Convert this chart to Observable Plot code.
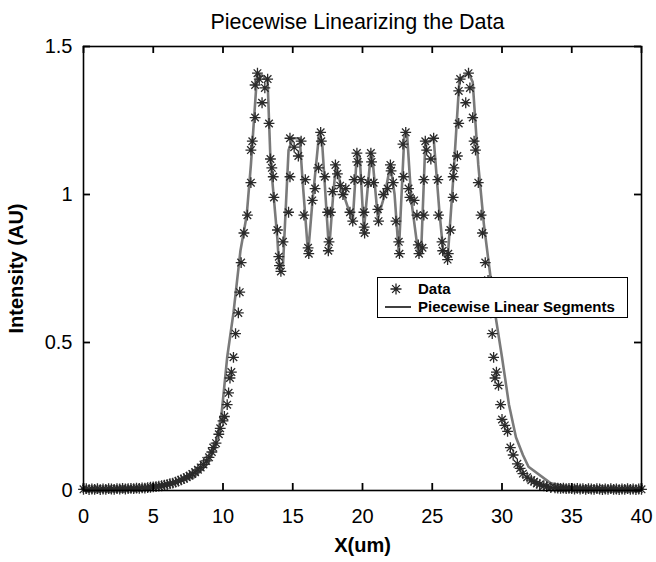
<!DOCTYPE html>
<html>
<head>
<meta charset="utf-8">
<script src="https://cdn.jsdelivr.net/npm/d3@7"></script>
<script src="https://cdn.jsdelivr.net/npm/@observablehq/plot@0.6"></script>
<style>
  html, body { margin: 0; padding: 0; background: #fff; }
  #wrap { position: relative; width: 656px; height: 562px; font-family: "Liberation Sans", Arial, sans-serif; }
  #legend { position: absolute; left: 377px; top: 277px; width: 249px; height: 39px; border: 1.5px solid #000; background: #fff;
            font-weight: bold; font-size: 15px; color: #000; }
  .row { position: absolute; left: 0; height: 18px; width: 249px; }
  .row svg { position: absolute; left: 4px; top: 0; }
  .row span { position: absolute; left: 40px; top: 0; line-height: 18px; white-space: nowrap; }
</style>
</head>
<body>
<div id="wrap">
  <div id="chart"></div>
  <div id="legend">
    <div class="row" style="top:2px"><svg width="30" height="18"><g transform="translate(14,9)" stroke="#222" stroke-width="1.3"><path d="M0,-5.5V5.5M-5.5,0H5.5M-3.9,-3.9L3.9,3.9M-3.9,3.9L3.9,-3.9"/></g></svg><span>Data</span></div>
    <div class="row" style="top:20px"><svg width="30" height="18"><line x1="3" x2="29" y1="9" y2="9" stroke="#000" stroke-width="1.5"/></svg><span>Piecewise Linear Segments</span></div>
  </div>
</div>
<script>
const title = "Piecewise Linearizing the Data";
const xLabel = "X(um)";
const yLabel = "Intensity (AU)";
const xTicks = [0, 5, 10, 15, 20, 25, 30, 35, 40];
const yTicks = [0, 0.5, 1, 1.5];
const yTickLabels = ["0", "0.5", "1", "1.5"];

// measured data points (stars)
const dataX = [
  0,0.2,0.4,0.6,0.8,1.0,1.2,1.4,1.6,1.8,
  2.0,2.2,2.4,2.6,2.8,3.0,3.2,3.4,3.6,3.8,
  4.0,4.2,4.4,4.6,4.8,5.0,5.2,5.4,5.6,5.8,
  6.0,6.2,6.4,6.6,6.8,7.0,7.2,7.4,7.6,7.8,
  8.0,8.2,8.4,8.6,8.8,9.0,9.2,9.3,9.5,9.7,9.8,10.0,10.1,10.3,10.4,10.5,10.6,10.75,10.9,11.1,11.2,11.3,11.5,11.75,
  12.0,12.0,12.1,12.3,12.3,12.47,12.6,12.8,13.0,13.2,13.3,13.4,13.5,13.6,13.65,13.9,14.0,14.05,14.15,
  14.3,14.7,14.8,14.8,15.1,15.4,15.6,15.8,15.9,16.1,16.15,16.4,16.6,16.85,17.0,17.05,17.3,17.5,17.6,17.55,17.7,17.85,
  18.06,18.2,18.4,18.6,18.8,19.1,19.3,19.4,19.6,19.65,19.9,20.1,20.12,20.15,20.4,20.6,20.65,20.8,21.1,21.15,
  21.5,21.8,22.0,22.05,22.2,22.4,22.6,22.65,22.9,22.95,23.1,23.3,23.4,23.7,23.9,24.0,24.05,24.3,24.4,24.4,
  24.5,24.6,24.9,25.1,25.4,25.45,25.7,25.75,26.1,26.15,26.3,26.5,26.5,26.55,26.8,26.9,26.9,27.0,27.4,27.6,
  27.7,27.9,28.0,28.1,28.3,28.5,28.6,28.8,29.0,29.2,29.3,29.4,29.5,29.6,29.75,29.9,30.0,30.2,30.4,30.6,
  30.8,31.1,31.3,31.5,31.8,32.1,32.3,32.5,32.7,33.0,33.2,33.5,33.8,34.0,
  34.2,34.4,34.6,34.8,35.0,35.2,35.4,35.6,35.8,36.0,36.2,36.4,36.6,36.8,37.0,37.2,37.4,37.6,37.8,38.0,
  38.2,38.4,38.6,38.8,39.0,39.2,39.4,39.6,39.8,40.0
];
const dataY = [
  0.004,0.006,0.003,0.005,0.004,0.006,0.003,0.005,0.004,0.006,
  0.005,0.004,0.006,0.005,0.007,0.005,0.006,0.007,0.006,0.008,
  0.007,0.009,0.008,0.010,0.011,0.012,0.013,0.015,0.016,0.018,
  0.020,0.023,0.025,0.028,0.032,0.036,0.040,0.045,0.050,0.056,
  0.062,0.070,0.078,0.088,0.100,0.112,0.13,0.145,0.16,0.19,0.21,0.235,0.25,0.29,0.33,0.38,0.40,0.45,0.53,0.60,0.67,0.77,0.87,0.93,
  1.04,1.15,1.18,1.26,1.37,1.41,1.39,1.31,1.36,1.39,1.24,1.12,1.09,1.06,0.99,0.88,0.79,0.76,0.74,
  0.84,0.94,1.06,1.19,1.16,1.13,1.18,0.93,1.05,0.82,0.80,0.98,1.02,1.09,1.21,1.18,1.06,0.94,0.84,0.81,0.94,1.01,
  1.10,1.07,1.03,1.00,1.02,0.94,0.91,1.05,1.14,1.11,1.05,0.94,0.89,0.87,1.04,1.14,1.11,1.04,0.95,0.91,
  1.00,1.02,1.10,1.08,1.04,0.91,0.84,0.80,1.17,1.06,1.21,1.02,0.99,0.98,0.93,0.83,0.80,0.82,0.93,1.05,
  1.18,1.15,1.12,1.19,1.05,0.93,0.84,0.81,0.78,0.80,0.88,0.99,1.06,1.09,1.13,1.24,1.35,1.39,1.31,1.41,
  1.36,1.26,1.18,1.15,1.04,0.93,0.87,0.77,0.71,0.60,0.53,0.45,0.38,0.40,0.355,0.29,0.24,0.22,0.20,0.145,
  0.12,0.09,0.075,0.057,0.045,0.035,0.030,0.024,0.020,0.016,0.013,0.010,0.009,0.008,
  0.007,0.008,0.006,0.007,0.006,0.005,0.007,0.005,0.006,0.004,0.006,0.005,0.004,0.006,0.005,0.003,0.005,0.004,0.006,0.004,
  0.005,0.003,0.005,0.004,0.006,0.004,0.005,0.003,0.005,0.004
];

// piecewise linear segment vertices
const lineX = [0,2.5,3.9,6.2,7.9,8.9,9.5,9.9,10.3,10.75,11.25,11.7,12.0,12.45,12.9,13.2,13.4,13.9,14.0,14.3,
  14.7,15.0,15.5,15.7,16.1,16.4,16.9,17.1,17.6,17.9,18.1,18.5,19.0,19.3,19.6,19.8,20.1,20.6,20.7,21.1,
  21.6,22.0,22.3,22.6,23.0,23.2,23.5,24.0,24.2,24.5,25.1,25.5,25.8,26.1,26.5,26.95,27.6,27.9,28.3,28.7,
  29.1,29.5,30.0,30.5,31.0,31.5,31.9,33.5,35,37,40];
const lineY = [0.006,0.006,0.007,0.024,0.044,0.09,0.16,0.26,0.45,0.60,0.81,0.93,1.10,1.41,1.40,1.38,1.12,0.85,0.77,0.76,
  1.15,1.19,1.19,1.05,0.80,0.97,1.21,1.18,0.81,1.00,1.10,1.02,0.95,0.91,1.14,1.13,0.88,1.14,1.13,0.92,
  1.00,1.10,1.00,0.80,1.20,1.20,0.98,0.80,0.80,1.17,1.19,0.95,0.80,0.78,1.05,1.39,1.41,1.38,1.10,0.90,
  0.75,0.60,0.45,0.29,0.18,0.12,0.08,0.024,0.01,0.006,0.005];

const points = dataX.map((x, i) => ({x, y: dataY[i]}));
const segs = lineX.map((x, i) => ({x, y: lineY[i]}));

const star8 = {
  draw(ctx, size) {
    const r = Math.sqrt(size / Math.PI), d = r * 0.7;
    ctx.moveTo(0, -r); ctx.lineTo(0, r);
    ctx.moveTo(-r, 0); ctx.lineTo(r, 0);
    ctx.moveTo(-d, -d); ctx.lineTo(d, d);
    ctx.moveTo(-d, d); ctx.lineTo(d, -d);
  }
};

const fontFamily = '"Liberation Sans", Arial, sans-serif';
const W = 656, H = 562, mL = 83, mR = 15, mT = 46, mB = 72;
const frameW = W - mL - mR, frameH = H - mT - mB, tick = 7;
const xDom = [xTicks[0], xTicks[xTicks.length - 1]];
const yDom = [yTicks[0], yTicks[yTicks.length - 1]];
// tick length converted to data units
const tx = (xDom[1] - xDom[0]) * tick / frameW;
const ty = (yDom[1] - yDom[0]) * tick / frameH;
const chart = Plot.plot({
  width: W,
  height: H,
  marginLeft: mL,
  marginRight: mR,
  marginTop: mT,
  marginBottom: mB,
  style: {fontFamily, fontSize: "19px", color: "#000", background: "#fff"},
  x: {domain: xDom},
  y: {domain: yDom},
  marks: [
    Plot.line(segs, {x: "x", y: "y", stroke: "#7a7a7a", strokeWidth: 2.6}),
    Plot.dot(points, {x: "x", y: "y", symbol: star8, r: 5.4, stroke: "#2a2a2a", strokeWidth: 1.3}),
    // inward ticks on all four sides
    Plot.ruleX(xTicks, {x: d => d, y1: yDom[0], y2: yDom[0] + ty, stroke: "#000", strokeWidth: 1.8}),
    Plot.ruleX(xTicks, {x: d => d, y1: yDom[1], y2: yDom[1] - ty, stroke: "#000", strokeWidth: 1.8}),
    Plot.ruleY(yTicks, {y: d => d, x1: xDom[0], x2: xDom[0] + tx, stroke: "#000", strokeWidth: 1.8}),
    Plot.ruleY(yTicks, {y: d => d, x1: xDom[1], x2: xDom[1] - tx, stroke: "#000", strokeWidth: 1.8}),
    Plot.frame({stroke: "#000", strokeWidth: 1.6}),
    Plot.axisX(xTicks, {anchor: "bottom", tickSize: 0, tickPadding: 18, fontSize: 20,
      label: xLabel, labelAnchor: "center", labelOffset: 61, labelArrow: "none"}),
    Plot.axisY(yTicks, {anchor: "left", tickSize: 0, tickPadding: 11, fontSize: 20,
      tickFormat: (d, i) => yTickLabels[i],
      label: yLabel, labelAnchor: "center", labelOffset: 75, labelArrow: "none"}),
    Plot.text([title], {frameAnchor: "top", dy: -33, dx: -5, text: d => d, fontSize: 21.5, fill: "#000"})
  ]
});
document.getElementById("chart").appendChild(chart);
// bold axis labels
chart.querySelectorAll("g[aria-label='x-axis label'] text, g[aria-label='y-axis label'] text").forEach(t => {
  t.setAttribute("font-weight", "bold");
  t.setAttribute("font-size", "20");
});
</script>
</body>
</html>
